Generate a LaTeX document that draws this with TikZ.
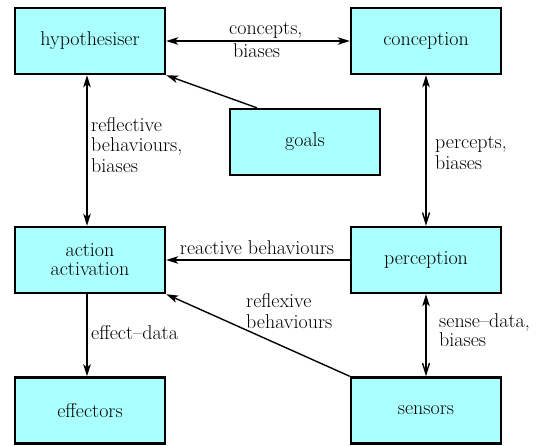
\documentclass[tikz,border=0pt]{standalone}
\usetikzlibrary{arrows.meta}
\definecolor{boxcyan}{HTML}{AAFFFF}
\begin{document}
\begin{tikzpicture}[x=1pt,y=-1pt,
  font=\fontsize{20}{20.5}\selectfont,
  unit/.style={draw=black, line width=2.4pt, fill=boxcyan,
    minimum width=150pt, minimum height=66pt, inner sep=0pt, align=center},
  flow/.style={line width=1.4pt,
    -{Stealth[length=12pt,width=7.5pt,inset=3pt]}},
  both/.style={line width=1.4pt,
    {Stealth[length=12pt,width=7.5pt,inset=3pt]}-{Stealth[length=12pt,width=7.5pt,inset=3pt]}},
  upbarb/.style={line width=1.4pt,
    {Stealth[length=12pt,width=7.5pt,inset=3pt]}-{Straight Barb[length=11pt,width=7pt]}},
  lbl/.style={inner sep=0pt, align=left}]
\useasboundingbox (0,0) rectangle (540,445);

% processing units
\node[unit] (hyp)  at (90,41)   {hypothesiser};
\node[unit] (conc) at (426,41)  {conception};
\node[unit] (goal) at (305,142) {goals};
\node[unit] (act)  at (90,260)  {action\\[-1.5pt]activation};
\node[unit] (perc) at (426,260) {perception};
\node[unit] (eff)  at (90,410.5)  {effectors};
\node[unit] (sens) at (426,410.5) {sensors};

% connections between units
\draw[both] (hyp.east) -- (conc.west);
\node[lbl, anchor=west] (lcb) at (229,40) {concepts,\\[3pt]\hspace{4pt}biases};

\draw[both] ([xshift=-3pt]hyp.south) -- ([xshift=-3pt]act.north);
\node[lbl, anchor=west] (lrb) at (91,145) {reflective\\behaviours,\\biases};

\draw[flow] ([xshift=28pt]goal.north west) -- (hyp.south east);

\draw[upbarb] (conc.south) -- (perc.north);
\node[lbl, anchor=west] (lpb) at (435,153) {percepts,\\biases};

\draw[flow] (perc.west) -- (act.east);
\node[lbl, anchor=south] (lrc) at (257,255) {reactive behaviours};

\draw[flow] (sens.north west) -- (act.south east);
\node[lbl, anchor=west] (lrx) at (246,311) {reflexive\\behaviours};

\draw[flow] ([xshift=-3pt]act.south) -- ([xshift=-3pt]eff.north);
\node[lbl, anchor=west] (led) at (91,333) {effect--data};

\draw[upbarb] (perc.south) -- (sens.north);
\node[lbl, anchor=west] (lsd) at (439,330) {sense--data,\\[-1.5pt]biases};
\end{tikzpicture}
\end{document}
